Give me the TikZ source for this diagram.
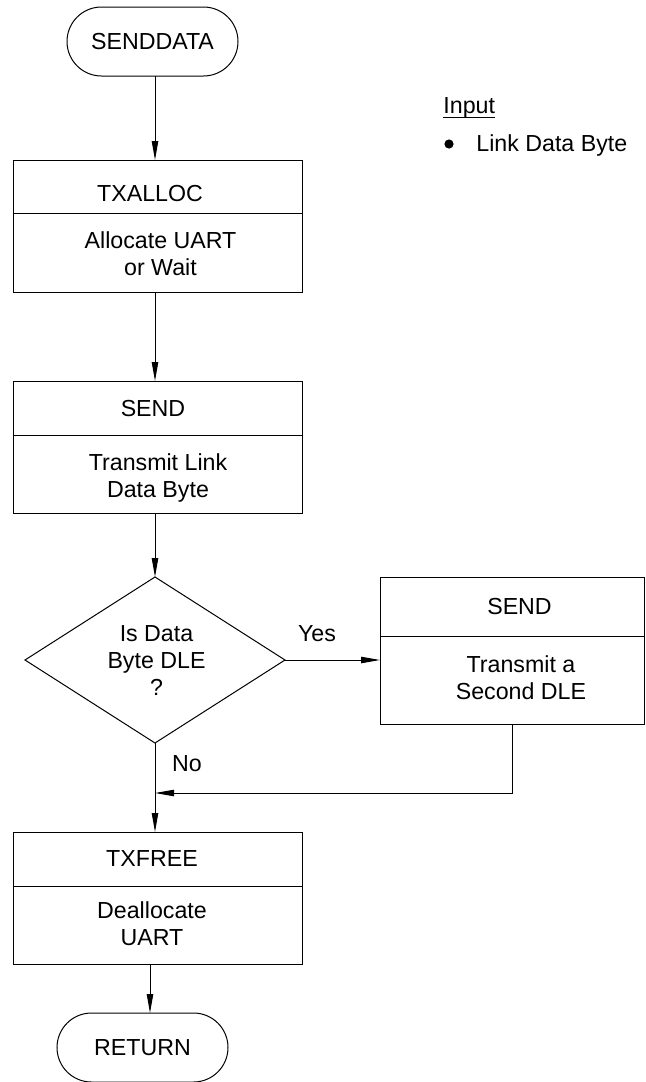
\documentclass[tikz,border=0pt]{standalone}
\usepackage{fontspec}
\setmainfont{Liberation Sans}
\usetikzlibrary{arrows.meta,shapes.geometric,shapes.misc}
\begin{document}
\begin{tikzpicture}[x=0.5pt,y=-0.5pt,
  every node/.style={font=\fontsize{11.6}{13.5}\selectfont},
  line/.style={line width=0.5pt},
  arr/.style={line width=0.5pt,-{Triangle[length=9.5pt,width=3.2pt]}},
  part/.style={draw,line width=0.5pt,rectangle,inner sep=0pt,outer sep=0pt},
  term/.style={draw,line width=0.5pt,rounded rectangle,minimum width=85.5pt,minimum height=34.5pt,inner sep=0pt,outer sep=0pt},
  txt/.style={inner sep=0pt,align=center,text depth=0pt},
]
\useasboundingbox (0,0) rectangle (645,1082);
\coordinate (spine) at (155,0);
\coordinate (lo) at (150,0);
\coordinate (join) at (155,793);

% start
\node[term] (sd) at (152.5,41.5) {SENDDATA};

% TXALLOC
\node[part,minimum width=144.5pt,minimum height=26.5pt] (tx1a) at (157.5,186.5) {};
\node[part,minimum width=144.5pt,minimum height=39.5pt] (tx1b) at (157.5,252.5) {};
\node[txt] (t1a) at (150,193) {TXALLOC};
\node[txt] (t1b) at (160.5,253.5) {Allocate UART\\or Wait};

% SEND
\node[part,minimum width=144.5pt,minimum height=27pt] (s1a) at (157.5,408) {};
\node[part,minimum width=144.5pt,minimum height=39pt] (s1b) at (157.5,474) {};
\node[txt] (ts1a) at (153,408) {SEND};
\node[txt] (ts1b) at (158,476) {Transmit Link\\Data Byte};

% decision
\node[draw,line width=0.5pt,diamond,aspect=1.566,minimum width=130pt,minimum height=83pt,inner sep=0pt,outer sep=0pt] (dec) at (155,660) {};
\node[txt] (tdec) at (156.5,660.5) {Is Data\\Byte DLE\\?};

% second SEND
\node[part,minimum width=132pt,minimum height=29.5pt] (s2a) at (512,606.5) {};
\node[part,minimum width=132pt,minimum height=44pt] (s2b) at (512,680) {};
\node[txt] (ts2a) at (519.5,606) {SEND};
\node[txt] (ts2b) at (521,677.5) {Transmit a\\Second DLE};

% TXFREE
\node[part,minimum width=144.5pt,minimum height=27pt] (tx3a) at (157.5,859) {};
\node[part,minimum width=144.5pt,minimum height=39pt] (tx3b) at (157.5,925) {};
\node[txt] (t3a) at (152,859) {TXFREE};
\node[txt] (t3b) at (152,923.5) {Deallocate\\UART};

% end
\node[term] (ret) at (142.5,1047.5) {RETURN};

% labels
\node[anchor=base] (yes) at (317,641) {Yes};
\node[anchor=base] (no) at (187,771) {No};

% input note
\node[anchor=base west,inner sep=0pt] (inp) at (443,113.3) {Input};
\draw[line] ([yshift=-2pt]inp.base west) -- ([yshift=-2pt]inp.base east);
\node[circle,fill,inner sep=0pt,minimum size=4.6pt] (bul) at (449,144) {};
\node[anchor=base west,inner sep=0pt] (ldb) at (476,151.5) {Link Data Byte};

% connectors
\draw[arr] (sd.south -| spine) -- (tx1a.north -| spine);
\draw[arr] (tx1b.south -| spine) -- (s1a.north -| spine);
\draw[arr] (s1b.south -| spine) -- (dec.north);
\draw[arr] (dec.east) -- (dec.east -| s2b.west);
\draw[arr] (dec.south) -- (tx3a.north -| spine);
\draw[arr] (s2b.south) |- (join);
\draw[arr] (tx3b.south -| lo) -- (ret.north -| lo);
\end{tikzpicture}
\end{document}
